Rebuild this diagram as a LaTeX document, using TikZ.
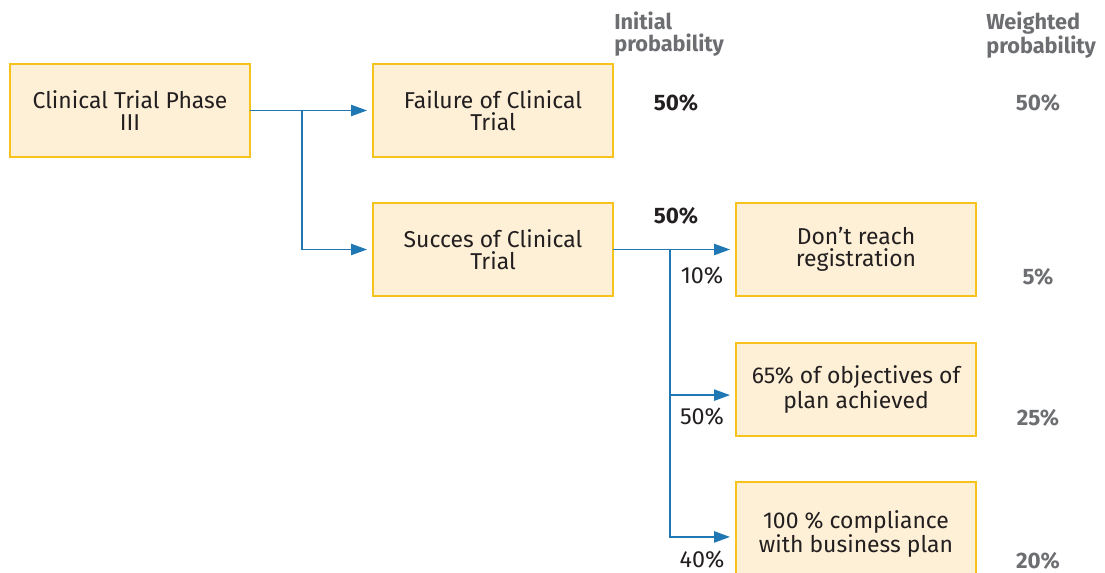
\documentclass[tikz,border=0pt]{standalone}
\usepackage{fontspec}
\setmainfont{Fira Sans}
\usetikzlibrary{arrows.meta}
\definecolor{boxfill}{HTML}{FDF0D6}
\definecolor{boxline}{HTML}{F6C31C}
\definecolor{arrowblue}{HTML}{1F78B4}
\definecolor{headgray}{HTML}{6D6E71}
\definecolor{txt}{HTML}{231F20}
\begin{document}
\begin{tikzpicture}[x=0.75pt,y=-0.75pt,
  box/.style={draw=boxline, fill=boxfill, line width=1.6pt, minimum width=180pt, minimum height=70pt,
    align=center, text=txt, inner sep=0pt, outer sep=0pt,
    font=\fontsize{17.2}{16.5}\selectfont},
  conn/.style={draw=arrowblue, line width=1.1pt},
  arr/.style={conn, -{Triangle[length=12pt,width=8.5pt]}, shorten >=4.5pt},
  head/.style={text=headgray, font=\fontsize{16.3}{16.5}\selectfont\bfseries, align=left, anchor=north west, inner sep=0pt},
  pbold/.style={text=txt, font=\fontsize{16.8}{16.8}\selectfont\bfseries, inner sep=0pt},
  wbold/.style={text=headgray, font=\fontsize{16.8}{16.8}\selectfont\bfseries, inner sep=0pt},
  preg/.style={text=txt, font=\fontsize{17.5}{17.5}\selectfont, inner sep=0pt}
]
\useasboundingbox (0,0) rectangle (1105,573);
\clip (0,0) rectangle (1105,573);

\node[box] (A) at (130,110.5) {Clinical Trial Phase\\III};
\node[box] (F) at (493,110.5) {Failure of Clinical\\Trial};
\node[box] (S) at (493,249.5) {Succes of Clinical\\Trial};
\node[box] (D) at (856,249.5) {Don’t reach\\registration};
\node[box] (B) at (856,389.5) {65\% of objectives of\\plan achieved};
\node[box, minimum height=78pt] (C) at (856,534) {100 \% compliance\\with business plan};

\coordinate (j1) at (302,110.5);
\coordinate (j2) at (670,249.5);

\draw[arr] (A.east) -- (F.west);
\draw[conn] (A.east) -- (j1);
\draw[arr] (j1) |- (S.west);
\draw[arr] (S.east) -- (D.west);
\draw[conn] (S.east) -- (j2);
\draw[arr] (j2) |- ([yshift=-4.2pt]B.west);
\draw[arr] (j2) |- ([yshift=-2.2pt]C.west);

\node[head] (h1) at (614,12) {Initial\\probability};
\node[head] (h2) at (986,12) {Weighted\\probability};

\node[pbold] (p1) at (676,103) {50\%};
\node[pbold] (p2) at (676,216) {50\%};
\node[wbold] (w1) at (1038,103) {50\%};
\node[wbold] (w2) at (1038,277) {5\%};
\node[wbold] (w3) at (1038,418) {25\%};
\node[wbold] (w4) at (1038,561) {20\%};
\node[preg] (r1) at (702,276) {10\%};
\node[preg] (r2) at (702,417) {50\%};
\node[preg] (r3) at (702,560) {40\%};
\end{tikzpicture}
\end{document}
